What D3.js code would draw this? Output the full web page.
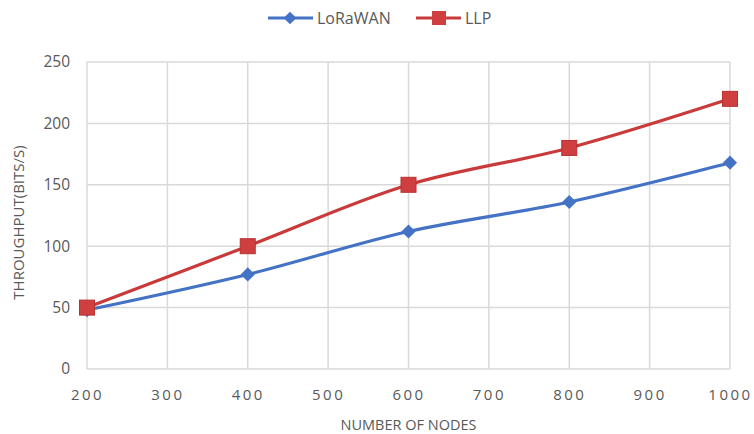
<!DOCTYPE html>
<html><head><meta charset="utf-8">
<script src="https://cdn.jsdelivr.net/npm/d3@7"></script>
<style>body{margin:0;background:#fff}svg{display:block}</style>
</head><body>
<script>
const nodes = [200, 400, 600, 800, 1000];
const lorawan = [48, 77, 112, 136, 168];
const llp = [50, 100, 150, 180, 220];
const xTicks = [200, 300, 400, 500, 600, 700, 800, 900, 1000];
const yTicks = [0, 50, 100, 150, 200, 250];
const seriesNames = ["LoRaWAN", "LLP"];

const W = 754, H = 434;
const m = {left: 87, right: 24, top: 62, bottom: 65};
const svg = d3.select("body").append("svg").attr("width", W).attr("height", H);
const x = d3.scaleLinear().domain([200, 1000]).range([m.left, W - m.right]);
const y = d3.scaleLinear().domain([0, 250]).range([H - m.bottom, m.top]);
const font = "'Open Sans', 'Noto Sans', sans-serif";
const txt = "#595959";

// grid
svg.append("g").selectAll("line").data(yTicks).join("line")
  .attr("x1", x(200)).attr("x2", x(1000)).attr("y1", d => y(d)).attr("y2", d => y(d))
  .attr("stroke", "#d9d9d9").attr("stroke-width", 1.5);
svg.append("g").selectAll("line").data(xTicks).join("line")
  .attr("y1", y(0)).attr("y2", y(250)).attr("x1", d => x(d)).attr("x2", d => x(d))
  .attr("stroke", "#d9d9d9").attr("stroke-width", 1.5);

// axes
const ya = d3.axisLeft(y).tickValues(yTicks).tickSize(0).tickPadding(17);
svg.append("g").attr("transform", `translate(${m.left},0)`).call(ya)
  .call(g => g.select(".domain").remove())
  .selectAll("text").attr("font-family", font).attr("font-size", 15.5).attr("fill", txt);
const xa = d3.axisBottom(x).tickValues(xTicks).tickFormat(d3.format("d")).tickSize(0).tickPadding(20);
svg.append("g").attr("transform", `translate(0,${y(0)})`).call(xa)
  .call(g => g.select(".domain").remove())
  .selectAll("text").attr("font-family", font).attr("font-size", 15).attr("fill", txt)
  .attr("letter-spacing", "2.5px");

// titles
svg.append("text").attr("x", (x(200) + x(1000)) / 2).attr("y", 430)
  .attr("text-anchor", "middle").attr("font-family", font).attr("font-size", 14.5)
  .attr("fill", txt).text("NUMBER OF NODES");
svg.append("text").attr("transform", `translate(24,${(y(0) + y(250)) / 2 + 7}) rotate(-90)`)
  .attr("text-anchor", "middle").attr("font-family", font).attr("font-size", 15)
  .attr("fill", txt).text("THROUGHPUT(BITS/S)");

const colors = ["#4472C4", "#C93A3A"];
const line = d3.line().x(d => x(d[0])).y(d => y(d[1])).curve(d3.curveCatmullRom.alpha(0.5));
const data = [lorawan, llp].map(s => nodes.map((n, i) => [n, s[i]]));

data.forEach((pts, k) => {
  svg.append("path").datum(pts).attr("d", line).attr("fill", "none")
    .attr("stroke", colors[k]).attr("stroke-width", 3.2);
});
// markers
svg.append("g").selectAll("rect").data(data[0]).join("rect")
  .attr("x", -5).attr("y", -5).attr("width", 10).attr("height", 10)
  .attr("transform", d => `translate(${x(d[0])},${y(d[1])}) rotate(45)`)
  .attr("fill", colors[0]);
svg.append("g").selectAll("rect").data(data[1]).join("rect")
  .attr("x", d => x(d[0]) - 7.5).attr("y", d => y(d[1]) - 7.5)
  .attr("width", 15).attr("height", 15)
  .attr("fill", "#CF3F3F").attr("stroke", "#B83232").attr("stroke-width", 1);

// legend
const lg = svg.append("g");
const legX = [268, 416];
seriesNames.forEach((name, k) => {
  const lx = legX[k];
  lg.append("line").attr("x1", lx).attr("x2", lx + 45).attr("y1", 18).attr("y2", 18)
    .attr("stroke", colors[k]).attr("stroke-width", 3.2);
  if (k === 0) {
    lg.append("rect").attr("x", -4.5).attr("y", -4.5).attr("width", 9).attr("height", 9)
      .attr("transform", `translate(${lx + 22},18) rotate(45)`).attr("fill", colors[0]);
  } else {
    lg.append("rect").attr("x", lx + 16).attr("y", 11).attr("width", 14).attr("height", 14)
      .attr("fill", "#CF3F3F");
  }
  lg.append("text").attr("x", lx + 49).attr("y", 24).attr("font-family", font)
    .attr("font-size", 16).attr("fill", txt).text(name);
});
</script>
</body></html>
